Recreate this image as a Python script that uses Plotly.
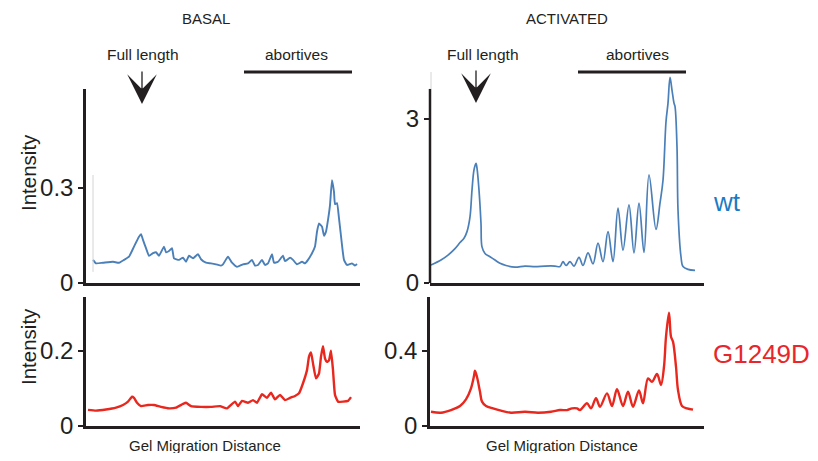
import plotly.graph_objects as go

# ---------------- data (migration distance in arbitrary units, intensity) ----------------
basal_wt_x = [7, 10, 17, 27, 33, 38, 43, 48, 53, 55, 57, 60, 63, 67, 70, 73, 78, 80, 83, 86, 88, 93, 97, 100,
              103, 107, 112, 115, 120, 125, 130, 135, 137, 142, 146, 151, 157, 162, 166, 169, 172, 176, 179,
              182, 186, 188, 192, 197, 199, 204, 207, 211, 216, 219, 222, 226, 229, 231, 233, 236, 238, 240,
              242, 244, 246, 248, 249, 251, 253, 256, 258, 261, 266, 269, 271]
basal_wt_y = [0.073, 0.062, 0.064, 0.067, 0.064, 0.073, 0.083, 0.115, 0.146, 0.154, 0.136, 0.110, 0.086, 0.094,
              0.097, 0.086, 0.115, 0.097, 0.101, 0.110, 0.078, 0.073, 0.080, 0.067, 0.086, 0.078, 0.091, 0.075,
              0.064, 0.062, 0.059, 0.055, 0.059, 0.083, 0.064, 0.051, 0.059, 0.062, 0.073, 0.055, 0.057, 0.073,
              0.057, 0.062, 0.091, 0.064, 0.067, 0.086, 0.069, 0.080, 0.073, 0.059, 0.067, 0.062, 0.073, 0.094,
              0.115, 0.162, 0.188, 0.178, 0.149, 0.162, 0.199, 0.246, 0.325, 0.288, 0.249, 0.252, 0.204, 0.120,
              0.073, 0.057, 0.062, 0.055, 0.060]

act_wt_x = [1, 11, 18, 25, 30, 34, 37, 40, 42, 44, 46, 47, 49, 51, 52, 55, 60, 65, 70, 76, 85, 95, 105, 115,
            125, 130, 133, 136, 140, 144, 149, 153, 158, 163, 168, 173, 178, 183, 188, 193, 199, 204, 209, 214,
            219, 226, 230, 233, 236, 238, 240, 242, 244, 245, 247, 248, 251, 253, 258, 265]
act_wt_y = [0.33, 0.42, 0.51, 0.63, 0.74, 0.82, 0.94, 1.21, 1.70, 2.07, 2.19, 2.10, 1.70, 1.09, 0.66, 0.54, 0.48,
            0.42, 0.36, 0.32, 0.29, 0.31, 0.30, 0.31, 0.31, 0.30, 0.39, 0.32, 0.39, 0.31, 0.47, 0.32, 0.55, 0.35,
            0.73, 0.39, 0.94, 0.39, 1.37, 0.60, 1.43, 0.55, 1.46, 0.56, 1.98, 0.98, 1.46, 1.88, 2.95, 3.29, 3.76,
            3.53, 3.29, 3.23, 2.49, 1.34, 0.48, 0.30, 0.25, 0.23]

basal_mut_x = [2, 10, 20, 30, 37, 42, 46, 48, 51, 55, 62, 68, 75, 83, 90, 97, 100, 105, 115, 125, 134, 141, 149,
               152, 156, 162, 167, 171, 176, 181, 185, 189, 194, 199, 204, 209, 213, 217, 221, 223, 225, 227,
               230, 233, 235, 237, 239, 241, 243, 245, 247, 249, 252, 257, 262, 265]
basal_mut_y = [0.043, 0.041, 0.044, 0.049, 0.056, 0.065, 0.078, 0.075, 0.062, 0.053, 0.056, 0.056, 0.051, 0.047,
               0.049, 0.059, 0.062, 0.053, 0.051, 0.051, 0.053, 0.047, 0.065, 0.053, 0.067, 0.062, 0.069, 0.062,
               0.085, 0.075, 0.089, 0.071, 0.083, 0.069, 0.075, 0.080, 0.087, 0.114, 0.149, 0.185, 0.196, 0.167,
               0.127, 0.140, 0.185, 0.213, 0.180, 0.171, 0.175, 0.201, 0.149, 0.083, 0.065, 0.065, 0.067, 0.077]

act_mut_x = [1, 11, 21, 30, 36, 41, 44, 45, 47, 50, 52, 56, 63, 71, 81, 95, 108, 121, 130, 137, 142, 147, 150,
             157, 161, 166, 170, 177, 182, 187, 193, 198, 203, 209, 213, 218, 222, 227, 231, 234, 236, 239, 241,
             243, 246, 248, 252, 257, 263]
act_mut_y = [0.076, 0.071, 0.085, 0.107, 0.142, 0.201, 0.267, 0.295, 0.261, 0.183, 0.130, 0.107, 0.094, 0.082,
             0.071, 0.076, 0.071, 0.076, 0.085, 0.085, 0.094, 0.094, 0.085, 0.121, 0.094, 0.148, 0.103, 0.174,
             0.107, 0.196, 0.107, 0.183, 0.103, 0.190, 0.121, 0.254, 0.236, 0.277, 0.219, 0.316, 0.476, 0.604,
             0.476, 0.450, 0.316, 0.192, 0.107, 0.094, 0.087]

tick_top_left = [0, 0.3]
tick_top_right = [0, 3]
tick_bot_left = [0, 0.2]
tick_bot_right = [0, 0.4]

# ---------------- styling ----------------
OFF = 8                      # default page body margin in the browser
W, H = 818 - 2 * OFF, 461 - 2 * OFF
INK = "#231f20"
BLUE = "#4a7fb8"
RED = "#e8281e"
FONT = "Liberation Sans, Arial, sans-serif"


def px(x):
    return (x - OFF) / W


def py(y):
    return 1 - (y - OFF) / H


fig = go.Figure()
fig.add_trace(go.Scatter(x=basal_wt_x, y=basal_wt_y, mode="lines",
                         line=dict(color=BLUE, width=1.9, shape="spline", smoothing=0.4),
                         xaxis="x", yaxis="y"))
fig.add_trace(go.Scatter(x=act_wt_x, y=act_wt_y, mode="lines",
                         line=dict(color=BLUE, width=1.7, shape="spline", smoothing=1.0),
                         xaxis="x2", yaxis="y2"))
fig.add_trace(go.Scatter(x=basal_mut_x, y=basal_mut_y, mode="lines",
                         line=dict(color=RED, width=2.4, shape="spline", smoothing=0.4),
                         xaxis="x3", yaxis="y3"))
fig.add_trace(go.Scatter(x=act_mut_x, y=act_mut_y, mode="lines",
                         line=dict(color=RED, width=2.4, shape="spline", smoothing=0.9),
                         xaxis="x4", yaxis="y4"))

xl = [px(86), px(360)]
xr = [px(430), px(704)]
ytop = [py(283), py(89)]
ytop_r = [py(283), py(72)]
ybot = [py(426), py(297)]

xcommon = dict(range=[0, 274], showline=True, linecolor=INK, linewidth=2.5, showticklabels=False,
               ticks="", showgrid=False, zeroline=False, fixedrange=True, automargin=False)
ycommon = dict(showline=True, linecolor=INK, linewidth=2.5, ticks="outside", ticklen=5, tickwidth=2,
               tickcolor=INK, showgrid=False, zeroline=False, automargin=False, fixedrange=True,
               tickfont=dict(family=FONT, size=24, color=INK))

fig.update_layout(
    template="none",
    width=W, height=H, margin=dict(l=0, r=0, t=0, b=0, pad=0), autosize=False,
    paper_bgcolor="white", plot_bgcolor="white", showlegend=False,
    font=dict(family=FONT, color=INK),
    xaxis=dict(domain=xl, anchor="y", **xcommon),
    xaxis2=dict(domain=xr, anchor="y2", **xcommon),
    xaxis3=dict(domain=xl, anchor="y3", **xcommon),
    xaxis4=dict(domain=xr, anchor="y4", **xcommon),
    yaxis=dict(domain=ytop, anchor="x", range=[0, 0.6126], tickvals=tick_top_left,
               ticktext=["0", "0.3"], **ycommon),
    yaxis2=dict(domain=ytop_r, anchor="x2", range=[0, 3.86], tickvals=tick_top_right,
                ticktext=["0", "3"], **{**ycommon, "showline": False}),
    yaxis3=dict(domain=ybot, anchor="x3", range=[0, 0.344], tickvals=tick_bot_left,
                ticktext=["0", "0.2"], **ycommon),
    yaxis4=dict(domain=ybot, anchor="x4", range=[0, 0.688], tickvals=tick_bot_right,
                ticktext=["0", "0.4"], **ycommon),
)

shapes = [
    # y axis line of activated wt panel (data goes above it)
    dict(type="line", xref="x2 domain", yref="y2", x0=0, x1=0, y0=0, y1=3.55,
         line=dict(color=INK, width=2.5)),
    # abortives bars
    dict(type="line", xref="paper", yref="paper", x0=px(244), x1=px(352), y0=py(72), y1=py(72),
         line=dict(color=INK, width=3)),
    dict(type="line", xref="paper", yref="paper", x0=px(578), x1=px(686), y0=py(72), y1=py(72),
         line=dict(color=INK, width=3)),
    # faint scan artifacts
    dict(type="line", xref="x", yref="y", x0=7, x1=7, y0=0.035, y1=0.341,
         line=dict(color="#d4d4d4", width=1)),
    dict(type="line", xref="paper", yref="paper", x0=px(431), x1=px(431), y0=py(72), y1=py(89),
         line=dict(color="#d4d4d4", width=1)),
]
fig.update_layout(shapes=shapes)


def txt(x, y, s, size, color=INK, angle=0):
    return dict(x=px(x), y=py(y), xref="paper", yref="paper", text=s, showarrow=False,
                xanchor="center", yanchor="middle", textangle=angle,
                font=dict(family=FONT, size=size, color=color))


def arrow(x, ytip):
    return dict(x=px(x), y=py(ytip), xref="paper", yref="paper", text="", showarrow=True,
                ax=0, ay=-34, arrowhead=3, arrowsize=3.8, arrowwidth=1.3, arrowcolor=INK, standoff=0)


annotations = [
    txt(206, 18, "BASAL", 15),
    txt(567, 18, "ACTIVATED", 15),
    txt(143, 54, "Full length", 15.5),
    txt(483, 54, "Full length", 15.5),
    txt(296, 54, "abortives", 15.5),
    txt(637, 54, "abortives", 15.5),
    txt(28, 173, "Intensity", 20.5, angle=-90),
    txt(28, 347, "Intensity", 20.5, angle=-90),
    txt(205, 445, "Gel Migration Distance", 15),
    txt(562, 445, "Gel Migration Distance", 15),
    txt(727, 202, "wt", 26, color="#1a7bc4"),
    txt(761, 354, "G1249D", 26, color="#e8262b"),
    arrow(142, 104),
    arrow(476, 103),
]
fig.update_layout(annotations=annotations)

fig.write_html("out.html")
